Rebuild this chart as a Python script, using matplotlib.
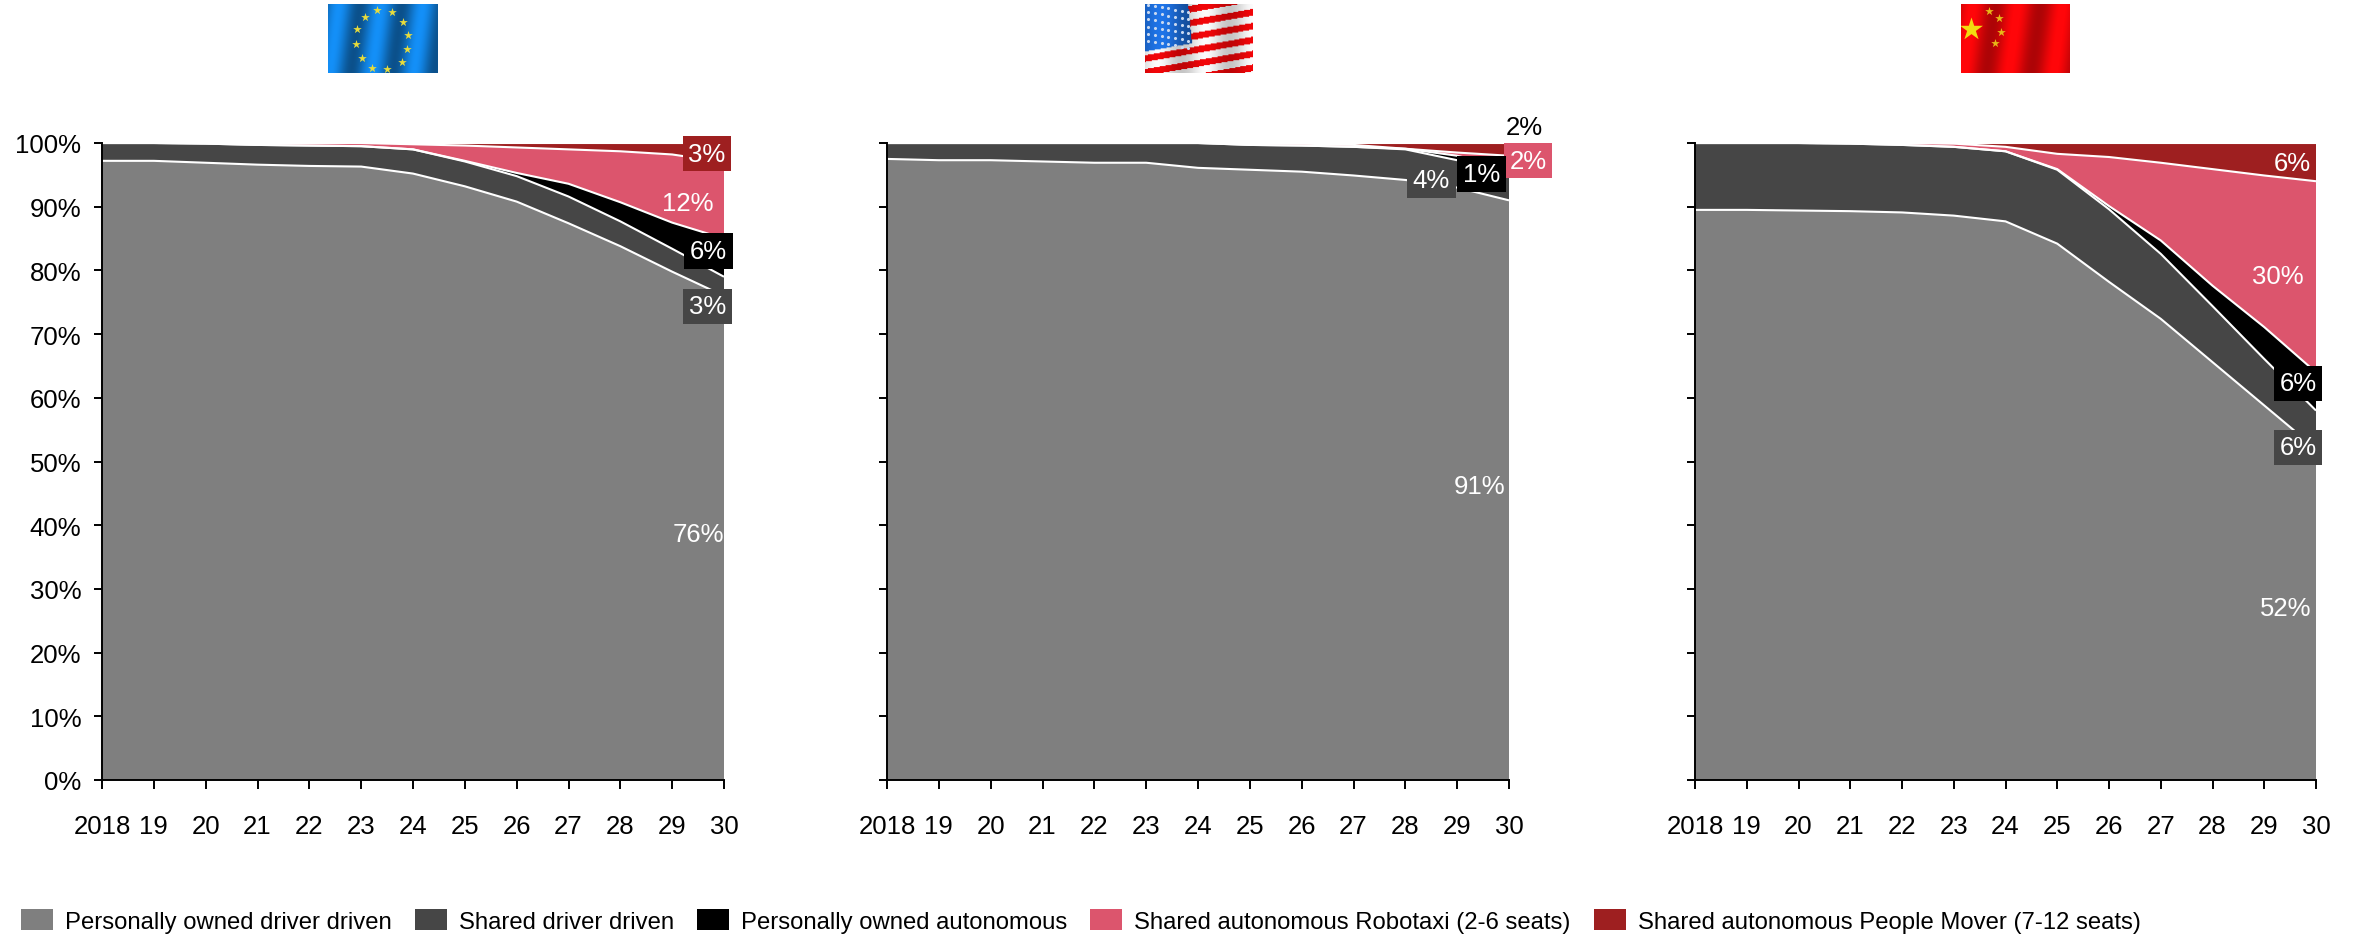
import matplotlib
matplotlib.use('Agg')
import matplotlib.pyplot as plt
from matplotlib.patches import Patch
import numpy as np

plt.rcParams['font.family'] = ['Liberation Sans', 'DejaVu Sans']

W, H = 2361, 937

years = list(range(2018, 2031))
year_labels = ['2018'] + [str(y)[2:] for y in years[1:]]
series_names = ['Personally owned driver driven', 'Shared driver driven', 'Personally owned autonomous',
                'Shared autonomous Robotaxi (2-6 seats)', 'Shared autonomous People Mover (7-12 seats)']
colors = ['#7F7F7F', '#464646', '#000000', '#DC556D', '#9E1F20']

# shares per year, in percent
eu_owned = [97.2, 97.2, 96.9, 96.6, 96.4, 96.3, 95.2, 93.2, 90.8, 87.4, 83.8, 79.8, 76]
eu_shared = [2.8, 2.8, 3.0, 3.1, 3.2, 3.2, 3.8, 3.9, 4.0, 4.2, 3.9, 3.6, 3]
eu_auto = [0, 0, 0, 0, 0, 0, 0, 0.1, 0.5, 2.0, 3.0, 4.1, 6]
eu_taxi = [0, 0, 0.1, 0.3, 0.4, 0.5, 0.8, 2.4, 4.0, 5.4, 8.0, 10.7, 12]
eu_mover = [0, 0, 0, 0, 0, 0, 0.2, 0.4, 0.7, 1.0, 1.3, 1.8, 3]

us_owned = [97.5, 97.3, 97.3, 97.1, 96.9, 96.9, 96.1, 95.8, 95.5, 94.9, 94.2, 93.0, 91]
us_shared = [2.5, 2.7, 2.7, 2.9, 3.1, 3.1, 3.9, 3.9, 4.1, 4.5, 4.8, 4.3, 4]
us_auto = [0, 0, 0, 0, 0, 0, 0, 0, 0, 0, 0.1, 0.7, 1]
us_taxi = [0, 0, 0, 0, 0, 0, 0, 0.3, 0.3, 0.3, 0, 0.5, 2]
us_mover = [0, 0, 0, 0, 0, 0, 0, 0, 0.1, 0.3, 0.9, 1.5, 2]

cn_owned = [89.5, 89.5, 89.4, 89.3, 89.1, 88.6, 87.7, 84.2, 78.2, 72.4, 65.6, 58.8, 52]
cn_shared = [10.5, 10.5, 10.6, 10.6, 10.6, 10.8, 11.0, 11.6, 11.4, 10.2, 8.8, 7.3, 6]
cn_auto = [0, 0, 0, 0, 0, 0, 0, 0.1, 0.5, 2.1, 3.2, 5.0, 6]
cn_taxi = [0, 0, 0, 0.1, 0.3, 0.5, 0.7, 2.4, 7.7, 12.2, 18.3, 23.8, 30]
cn_mover = [0, 0, 0, 0, 0, 0.1, 0.6, 1.7, 2.2, 3.1, 4.1, 5.1, 6]


def px_axes(x0, y0, x1, y1):
    # axes from pixel corners, y counted from the top
    return fig.add_axes([x0 / W, 1 - y1 / H, (x1 - x0) / W, (y1 - y0) / H])


def panel(left, right, series, labels, show_y=False):
    ax = px_axes(left, 144, right, 781)
    ax.stackplot(years, series, colors=colors, linewidth=0)
    # white rule along the top of every layer, no edge on the sides
    for top in np.cumsum(series, axis=0):
        ax.plot(years, top, color='white', lw=1.5, solid_capstyle='butt')
    ax.set_xlim(2018, 2030)
    ax.set_ylim(0, 100)
    ax.set_xticks(years)
    ax.set_xticklabels(year_labels)
    ax.set_yticks(range(0, 101, 10))
    if show_y:
        ax.set_yticklabels([f'{v}%' for v in range(0, 101, 10)])
    else:
        ax.set_yticklabels([])
    ax.tick_params(axis='x', length=6.5, width=1.4, labelsize=18.5, pad=18)
    ax.tick_params(axis='y', length=5.8, width=1.4, labelsize=18.5, pad=9)
    ax.spines['top'].set_visible(False)
    ax.spines['right'].set_visible(False)
    ax.spines['left'].set_linewidth(1.4)
    ax.spines['bottom'].set_linewidth(1.4)

    # end-of-period labels take their text from the last value of each series
    for idx, x, y, color, box in labels:
        bbox = None
        if box:
            bbox = dict(boxstyle='square,pad=0.22', facecolor=colors[idx], edgecolor='none')
        ax.text(x, y - 0.35, f'{series[idx][-1]}%', color=color, fontsize=18.5, ha='center', va='center',
                bbox=bbox, zorder=5)
    return ax


def flag_base(x0, y0, x1, y1, image):
    ax = px_axes(x0, y0, x1, y1)
    ax.imshow(image, extent=(0, 1, 0, 1), aspect='auto', interpolation='bilinear')
    ax.set_xlim(0, 1)
    ax.set_ylim(0, 1)
    ax.axis('off')
    return ax


fx, fy = np.meshgrid(np.linspace(0, 1, 110), np.linspace(0, 1, 70))


def shaded(rgb, bands, strength, slant=0.08):
    wave = np.sin((fx + slant * fy) * bands * 2 * np.pi)
    img = np.ones(fx.shape + (3,)) * np.array(rgb)
    return np.clip(img * (1 + strength * wave)[..., None], 0, 1)


fig = plt.figure(figsize=(W / 100, H / 100), dpi=100)

panel(102, 724, [eu_owned, eu_shared, eu_auto, eu_taxi, eu_mover],
      [(4, 2029.67, 98.7, 'white', True), (3, 2029.3, 90.9, 'white', False),
       (2, 2029.7, 83.4, 'white', True), (1, 2029.68, 74.7, 'white', True),
       (0, 2029.5, 38.9, 'white', False)], show_y=True)
panel(887, 1509, [us_owned, us_shared, us_auto, us_taxi, us_mover],
      [(4, 2030.3, 102.8, 'black', False), (3, 2030.37, 97.6, 'white', True),
       (2, 2029.47, 95.5, 'white', True), (1, 2028.5, 94.5, 'white', True),
       (0, 2029.43, 46.5, 'white', False)])
panel(1695, 2316, [cn_owned, cn_shared, cn_auto, cn_taxi, cn_mover],
      [(4, 2029.55, 97.2, 'white', False), (3, 2029.27, 79.4, 'white', False),
       (2, 2029.65, 62.6, 'white', True), (1, 2029.65, 52.6, 'white', True),
       (0, 2029.42, 27.3, 'white', False)])

# EU flag
ax = flag_base(328, 5, 437, 74, shaded((0.06, 0.44, 0.76), 2.6, 0.28))
eu_sx = [.447, .585, .69, .73, .727, .675, .543, .403, .31, .257, .263, .337]
eu_sy = [.92, .88, .745, .555, .343, .155, .058, .077, .217, .425, .633, .816]
ax.scatter(eu_sx, eu_sy, marker='*', s=42, color='#E8DC3C', linewidths=0)

# US flag: slanted stripes with a blue canton, rows run top to bottom
yy = fy + 0.27 * fx
stripes = np.mod(yy * 4.9 + 0.35, 1) < 0.48
us_img = np.where(stripes[..., None], np.array([0.85, 0.02, 0.03]), np.array([0.88, 0.88, 0.88]))
us_img = np.clip(us_img * (1 + 0.12 * np.sin(fx * 14))[..., None], 0, 1)
canton = (fx < 0.40 + 0.06 * fy) & (yy < 0.69)
us_img[canton] = np.array([0.10, 0.38, 0.76]) * (1 + 0.2 * np.sin(fx[canton] * 11))[..., None]
ax = flag_base(1145, 5, 1253, 74, us_img)
cx, cy = np.meshgrid(np.linspace(0.03, 0.40, 7), np.linspace(0.06, 0.58, 6))
ax.scatter(cx.ravel(), (1 - cy + 0.27 * (0.2 - cx)).ravel(), s=5, color='#C8D8F0', linewidths=0)

# China flag
ax = flag_base(1961, 5, 2070, 74, shaded((0.85, 0.02, 0.03), 2.4, 0.2))
ax.scatter([.09], [.64], marker='*', s=300, color='#F2DC10', linewidths=0)
ax.scatter([.26, .35, .37, .31], [.90, .79, .59, .44], marker='*', s=42, color='#E8B818', linewidths=0)

handles = [Patch(facecolor=c, edgecolor='none') for c in colors]
fs = 17.2
em = fs * 100 / 72
fig.legend(handles, series_names, loc='lower left', bbox_to_anchor=(21 / W, 1 - 934 / H), ncol=5,
           frameon=False, fontsize=fs, borderpad=0, borderaxespad=0, handlelength=32 / em,
           handleheight=23 / em, handletextpad=12 / em, columnspacing=23 / em)

fig.savefig('out.png', dpi=100)
